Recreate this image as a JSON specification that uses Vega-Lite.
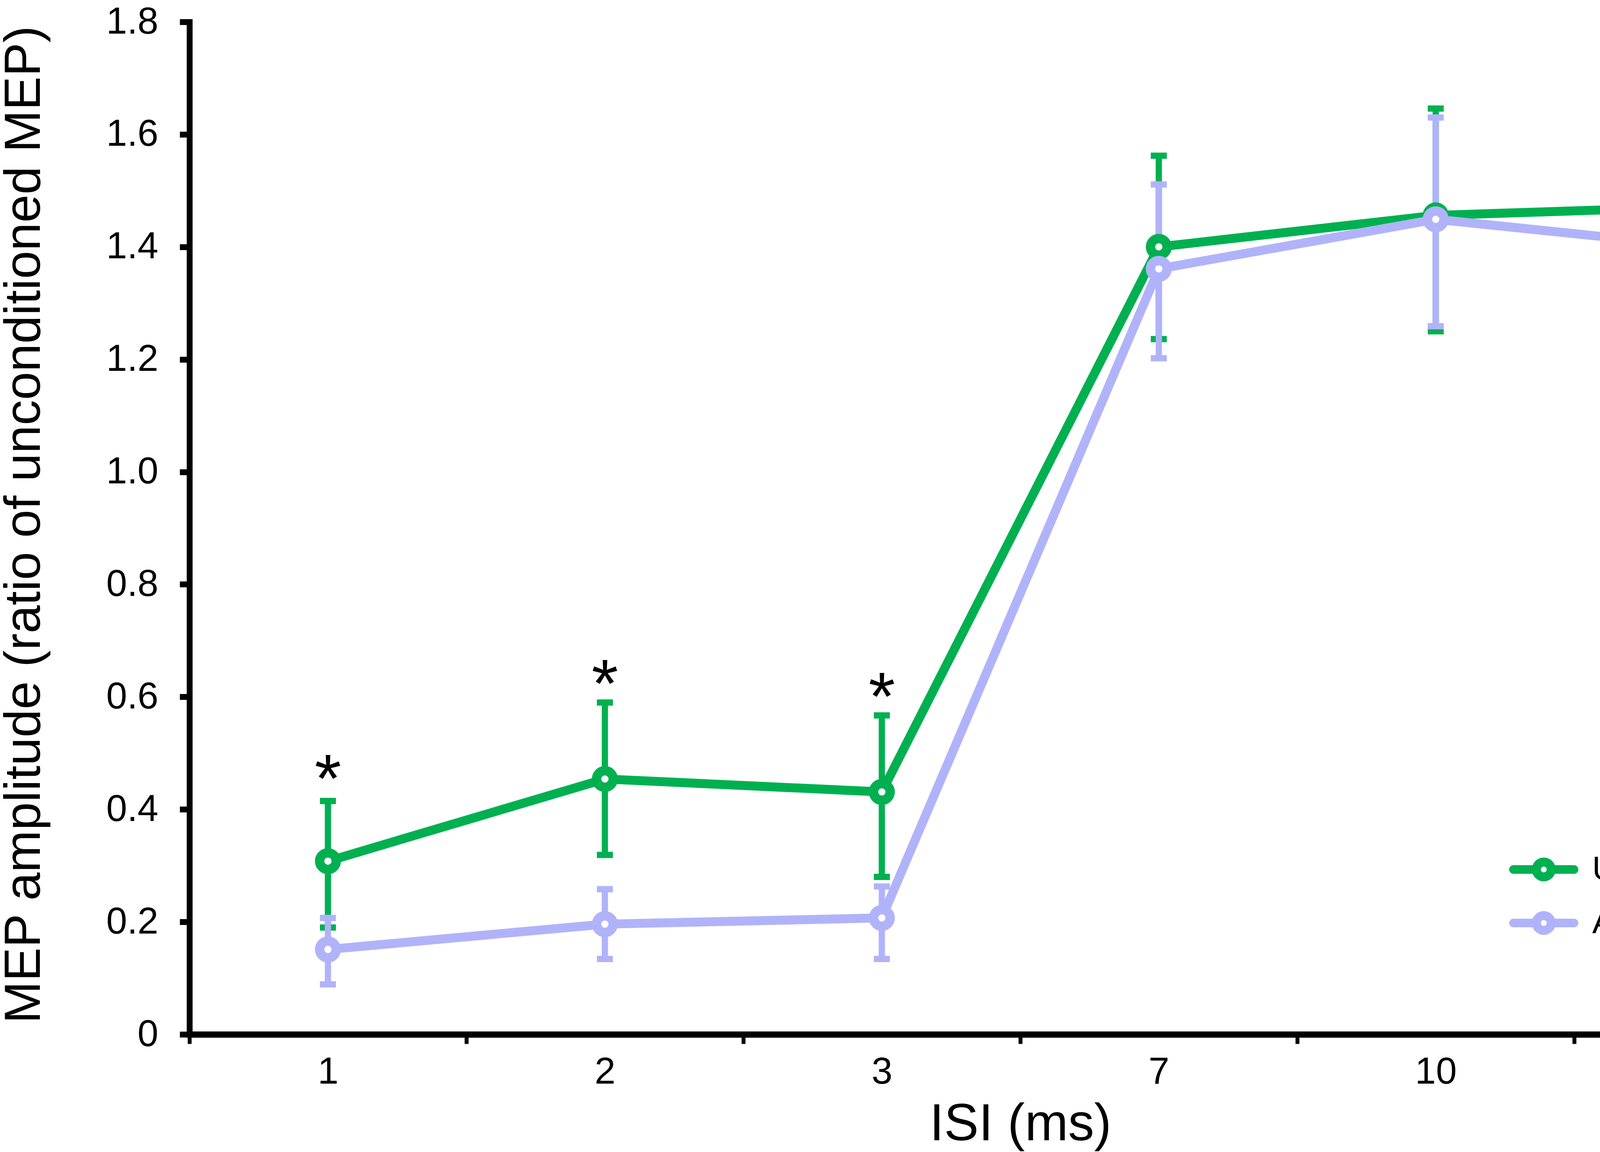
{
  "$schema": "https://vega.github.io/schema/vega-lite/v6.json",
  "width": 4254,
  "height": 2591,
  "autosize": {"type": "none"},
  "padding": {"left": 485, "top": 56, "right": 20, "bottom": 301},
  "background": "white",
  "config": {
    "view": {"stroke": null},
    "font": "Liberation Sans",
    "axis": {"grid": false, "domainColor": "black", "tickColor": "black", "labelColor": "black", "titleColor": "black", "titleFontWeight": "normal", "domainCap": "square"}
  },
  "datasets": {
    "stats": [
      {"isi": "1", "side": "Unaffected Side", "mean": 0.308, "lo": 0.19, "hi": 0.415},
      {"isi": "2", "side": "Unaffected Side", "mean": 0.454, "lo": 0.319, "hi": 0.59},
      {"isi": "3", "side": "Unaffected Side", "mean": 0.431, "lo": 0.28, "hi": 0.567},
      {"isi": "7", "side": "Unaffected Side", "mean": 1.4, "lo": 1.236, "hi": 1.562},
      {"isi": "10", "side": "Unaffected Side", "mean": 1.456, "lo": 1.25, "hi": 1.646},
      {"isi": "15", "side": "Unaffected Side", "mean": 1.472, "lo": 1.304, "hi": 1.624},
      {"isi": "1", "side": "Affected Side", "mean": 0.151, "lo": 0.089, "hi": 0.207},
      {"isi": "2", "side": "Affected Side", "mean": 0.196, "lo": 0.134, "hi": 0.258},
      {"isi": "3", "side": "Affected Side", "mean": 0.207, "lo": 0.134, "hi": 0.263},
      {"isi": "7", "side": "Affected Side", "mean": 1.361, "lo": 1.202, "hi": 1.511},
      {"isi": "10", "side": "Affected Side", "mean": 1.449, "lo": 1.259, "hi": 1.63},
      {"isi": "15", "side": "Affected Side", "mean": 1.398, "lo": 1.225, "hi": 1.568}
    ],
    "stars": [
      {"isi": "1", "y": 0.476},
      {"isi": "2", "y": 0.645},
      {"isi": "3", "y": 0.622}
    ]
  },
  "data": {"name": "stats"},
  "encoding": {
    "x": {
      "field": "isi", "type": "ordinal",
      "scale": {"domain": ["1", "2", "3", "7", "10", "15"], "paddingInner": 0, "paddingOuter": 0},
      "axis": {
        "title": "ISI (ms)", "titleFontSize": 133, "titleBaseline": "alphabetic", "titleY": 270,
        "labelAngle": 0, "labelFontSize": 96, "labelBaseline": "alphabetic", "labelPadding": 101,
        "domainWidth": 16, "tickWidth": 10, "tickSize": 24, "tickBand": "extent"
      }
    },
    "color": {
      "field": "side", "type": "nominal",
      "scale": {"domain": ["Unaffected Side", "Affected Side"], "range": ["#00B050", "#B1B3FA"]},
      "legend": {
        "title": null, "orient": "none", "legendX": 3406, "legendY": 2108, "padding": 0,
        "labelFontSize": 86, "labelColor": "black", "labelOffset": 63, "rowPadding": 9, "labelLimit": 0,
        "symbolType": "M-1.55,0L-0.38,0M0.38,0L1.55,0M-0.39,0A0.39,0.39,0,1,0,0.39,0A0.39,0.39,0,1,0,-0.39,0ZM-0.37,0A0.37,0.37,0,1,1,0.37,0A0.37,0.37,0,1,1,-0.37,0Z",
        "symbolSize": 10000, "symbolStrokeWidth": 22, "symbolOpacity": 1,
        "encode": {"symbols": {"update": {"strokeWidth": {"value": 22}, "opacity": {"value": 1}, "strokeCap": {"value": "round"}}}}
      }
    }
  },
  "layer": [
    {
      "transform": [{"filter": "datum.side == 'Unaffected Side'"}],
      "mark": {"type": "rule", "strokeWidth": 16},
      "encoding": {
        "y": {
          "field": "lo", "type": "quantitative",
          "scale": {"domain": [0, 1.8], "nice": false, "zero": true},
          "axis": {
            "title": "MEP amplitude (ratio of unconditioned MEP)", "titleFontSize": 129.5,
            "titleBaseline": "alphabetic", "titleX": -384, "titleY": 1286,
            "values": [0, 0.2, 0.4, 0.6, 0.8, 1.0, 1.2, 1.4, 1.6, 1.8],
            "labelExpr": "datum.value == 0 ? '0' : format(datum.value, '.1f')",
            "labelFontSize": 96, "labelPadding": 55, "domainWidth": 15, "tickWidth": 15, "tickSize": 25
          }
        },
        "y2": {"field": "hi"}
      }
    },
    {
      "transform": [{"filter": "datum.side == 'Unaffected Side'"}],
      "mark": {"type": "tick", "thickness": 16, "size": 41, "opacity": 1},
      "encoding": {"y": {"field": "lo", "type": "quantitative"}}
    },
    {
      "transform": [{"filter": "datum.side == 'Unaffected Side'"}],
      "mark": {"type": "tick", "thickness": 16, "size": 41, "opacity": 1},
      "encoding": {"y": {"field": "hi", "type": "quantitative"}}
    },
    {
      "transform": [{"filter": "datum.side == 'Affected Side'"}],
      "mark": {"type": "rule", "strokeWidth": 16},
      "encoding": {"y": {"field": "lo", "type": "quantitative"}, "y2": {"field": "hi"}}
    },
    {
      "transform": [{"filter": "datum.side == 'Affected Side'"}],
      "mark": {"type": "tick", "thickness": 16, "size": 41, "opacity": 1},
      "encoding": {"y": {"field": "lo", "type": "quantitative"}}
    },
    {
      "transform": [{"filter": "datum.side == 'Affected Side'"}],
      "mark": {"type": "tick", "thickness": 16, "size": 41, "opacity": 1},
      "encoding": {"y": {"field": "hi", "type": "quantitative"}}
    },
    {
      "mark": {"type": "line", "strokeWidth": 23},
      "encoding": {"y": {"field": "mean", "type": "quantitative"}}
    },
    {
      "mark": {"type": "point", "shape": "circle", "filled": false, "fill": "white", "strokeWidth": 24, "size": 1810, "opacity": 1},
      "encoding": {"y": {"field": "mean", "type": "quantitative"}}
    },
    {
      "data": {"name": "stars"},
      "mark": {"type": "text", "text": "*", "fontSize": 175, "dy": 90, "color": "black", "baseline": "alphabetic", "align": "center"},
      "encoding": {"y": {"field": "y", "type": "quantitative"}, "color": {"value": "black"}}
    }
  ]
}
